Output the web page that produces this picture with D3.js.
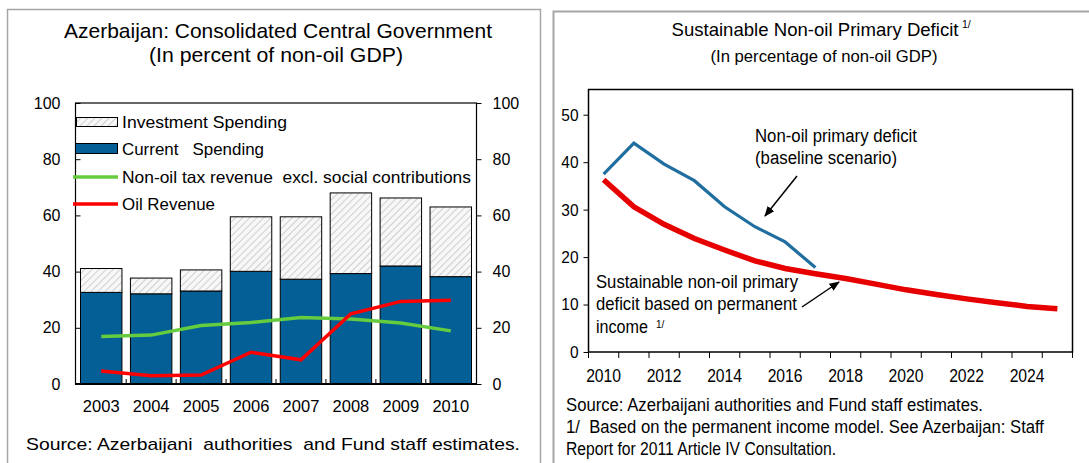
<!DOCTYPE html>
<html>
<head>
<meta charset="utf-8">
<script src="https://cdn.jsdelivr.net/npm/d3@7/dist/d3.min.js"></script>
<style>
  body { margin: 0; background: #fff; }
  text { font-family: "Liberation Sans", Arial, sans-serif; fill: #000; white-space: pre; }
</style>
</head>
<body>
<div id="chart"></div>
<script>
// left panel: consolidated central government, % of non-oil GDP
var years = [2003, 2004, 2005, 2006, 2007, 2008, 2009, 2010];
var currentSpending = [32.6, 32.1, 33.1, 40.1, 37.3, 39.3, 42.0, 38.2];
var investmentSpending = [8.5, 5.6, 7.5, 19.4, 22.2, 28.7, 24.2, 24.8];
var nonOilTax = [16.9, 17.4, 20.8, 21.9, 23.7, 23.1, 21.7, 18.9];
var oilRevenue = [4.6, 2.9, 3.2, 11.3, 8.6, 25.0, 29.4, 29.8];
var leftTicks = [0, 20, 40, 60, 80, 100];

// right panel: sustainable non-oil primary deficit
var projYears = [2010, 2011, 2012, 2013, 2014, 2015, 2016, 2017, 2018, 2019, 2020, 2021, 2022, 2023, 2024, 2025];
var baselineDeficit = [37.5, 44.0, 39.6, 36.1, 30.6, 26.4, 23.2, 17.8];
var sustainableDeficit = [36.3, 30.6, 26.9, 23.9, 21.5, 19.2, 17.6, 16.5, 15.5, 14.3, 13.1, 12.1, 11.2, 10.4, 9.6, 9.1];
var rightTicks = [0, 10, 20, 30, 40, 50];
var rightYearLabels = [2010, 2012, 2014, 2016, 2018, 2020, 2022, 2024];

var svg = d3.select('#chart').append('svg')
    .attr('width', 1089)
    .attr('height', 463);

var defs = svg.append('defs');
var hatch = defs.append('pattern')
    .attr('id', 'hatch')
    .attr('patternUnits', 'userSpaceOnUse')
    .attr('width', 5)
    .attr('height', 5)
    .attr('patternTransform', 'rotate(45)');
hatch.append('rect').attr('width', 5).attr('height', 5).attr('fill', '#f7f7f7');
hatch.append('line').attr('x1', 0).attr('y1', 0).attr('x2', 0).attr('y2', 5)
    .attr('stroke', '#b4b4b4').attr('stroke-width', 1.2);

defs.append('marker')
    .attr('id', 'arrow')
    .attr('viewBox', '0 0 10 10')
    .attr('refX', 9).attr('refY', 5)
    .attr('markerWidth', 7).attr('markerHeight', 7)
    .attr('orient', 'auto')
  .append('path')
    .attr('d', 'M0,1L10,5L0,9Z')
    .attr('fill', '#000');

var label = function(g, x, y, str, size, anchor, len) {
    var t = g.append('text')
        .attr('x', x).attr('y', y)
        .attr('font-size', size + 'px')
        .attr('text-anchor', anchor || 'start')
        .text(str);
    if (len) t.attr('textLength', len).attr('lengthAdjust', 'spacingAndGlyphs');
    return t;
};

// panel borders
svg.append('rect')
    .attr('x', 7.5).attr('y', 9.5).attr('width', 533).attr('height', 480)
    .attr('fill', 'none').attr('stroke', '#a6a6a6').attr('stroke-width', 1.5);
svg.append('path')
    .attr('d', 'M553.5,470V11.5H1095')
    .attr('fill', 'none').attr('stroke', '#a6a6a6').attr('stroke-width', 2);

/* ---------- left panel ---------- */
var left = svg.append('g');
var xL = d3.scaleBand(years, [75.5, 476.5]).paddingInner(0.17).paddingOuter(0.1),
    yL = d3.scaleLinear([0, 100], [384, 103]);

label(left, 278, 38, 'Azerbaijan: Consolidated Central Government', 21, 'middle', 428);
label(left, 276, 62, '(In percent of non-oil GDP)', 21, 'middle', 254);

left.selectAll('.cur')
    .data(years)
    .enter()
    .append('rect')
    .attr('x', function(d) { return xL(d); })
    .attr('width', xL.bandwidth())
    .attr('y', function(d, i) { return yL(currentSpending[i]); })
    .attr('height', function(d, i) { return yL(0) - yL(currentSpending[i]); })
    .attr('fill', '#035f95')
    .attr('stroke', '#000')
    .attr('stroke-width', 1);

left.selectAll('.inv')
    .data(years)
    .enter()
    .append('rect')
    .attr('x', function(d) { return xL(d); })
    .attr('width', xL.bandwidth())
    .attr('y', function(d, i) { return yL(currentSpending[i] + investmentSpending[i]); })
    .attr('height', function(d, i) { return yL(currentSpending[i]) - yL(currentSpending[i] + investmentSpending[i]); })
    .attr('fill', 'url(#hatch)')
    .attr('stroke', '#000')
    .attr('stroke-width', 1);

var lineL = function(vals) {
    return d3.line()
        .x(function(d, i) { return xL(years[i]) + xL.bandwidth() / 2; })
        .y(function(d) { return yL(d); })(vals);
};
left.append('path').attr('d', lineL(nonOilTax))
    .attr('fill', 'none').attr('stroke', '#66cc3f').attr('stroke-width', 3.5);
left.append('path').attr('d', lineL(oilRevenue))
    .attr('fill', 'none').attr('stroke', '#ff0000').attr('stroke-width', 3.5);

// frame and axes
left.append('rect')
    .attr('x', 75.5).attr('y', 103).attr('width', 401).attr('height', 281)
    .attr('fill', 'none').attr('stroke', '#000').attr('stroke-width', 1.2);
left.append('line')
    .attr('x1', 75).attr('x2', 477).attr('y1', 384).attr('y2', 384)
    .attr('stroke', '#000').attr('stroke-width', 2);

var axL = left.append('g')
    .attr('transform', 'translate(75.5,0)')
    .call(d3.axisLeft(yL).tickValues(leftTicks).tickSize(-5).tickPadding(15));
var axR = left.append('g')
    .attr('transform', 'translate(476.5,0)')
    .call(d3.axisRight(yL).tickValues(leftTicks).tickSize(5).tickPadding(11));
var axB = left.append('g')
    .attr('transform', 'translate(0,384)')
    .call(d3.axisBottom(xL).tickSize(0).tickPadding(16));
[axL, axR, axB].forEach(function(a) {
    a.select('.domain').remove();
    a.selectAll('text').attr('font-size', '16px').attr('font-family', null);
    a.selectAll('line').attr('stroke', '#000');
});
axB.selectAll('text').attr('font-size', '16.5px');

// category separators on the bottom axis
left.selectAll('.sep')
    .data(years.slice(1))
    .enter()
    .append('line')
    .attr('x1', function(d) { return xL(d) - xL.step() * xL.paddingInner() / 2; })
    .attr('x2', function(d) { return xL(d) - xL.step() * xL.paddingInner() / 2; })
    .attr('y1', 384).attr('y2', 379)
    .attr('stroke', '#000');

// legend
var lg = left.append('g');
lg.append('rect').attr('x', 76.5).attr('y', 117.5).attr('width', 41).attr('height', 9)
    .attr('fill', 'url(#hatch)').attr('stroke', '#000');
lg.append('rect').attr('x', 75.5).attr('y', 143.5).attr('width', 42).attr('height', 10)
    .attr('fill', '#035f95').attr('stroke', '#000');
lg.append('line').attr('x1', 73).attr('x2', 118).attr('y1', 177).attr('y2', 177)
    .attr('stroke', '#66cc3f').attr('stroke-width', 3.5);
lg.append('line').attr('x1', 73).attr('x2', 118).attr('y1', 204).attr('y2', 204)
    .attr('stroke', '#ff0000').attr('stroke-width', 3.5);
label(lg, 122, 128, 'Investment Spending', 16.5, 'start', 165);
label(lg, 122, 155, 'Current   Spending', 16.5, 'start', 142);
label(lg, 122, 183, 'Non-oil tax revenue  excl. social contributions', 16.5, 'start', 349);
label(lg, 122, 210, 'Oil Revenue', 16.5, 'start', 93);

label(left, 273, 450, 'Source: Azerbaijani  authorities  and Fund staff estimates.', 17, 'middle', 494);

/* ---------- right panel ---------- */
var right = svg.append('g');
var xR = d3.scaleBand(projYears, [588.5, 1072.5]),
    yR = d3.scaleLinear([0, 55], [352, 91]);

label(right, 815, 36, 'Sustainable Non-oil Primary Deficit', 18.5, 'middle', 287);
label(right, 962, 28, '1/', 10.5, 'start');
label(right, 824, 62, '(In percentage of non-oil GDP)', 16.5, 'middle', 227);

var lineR = d3.line()
    .x(function(d, i) { return xR(projYears[i]) + xR.bandwidth() / 2; })
    .y(function(d) { return yR(d); });
right.append('path').attr('d', lineR(sustainableDeficit))
    .attr('fill', 'none').attr('stroke', '#e60000').attr('stroke-width', 5.5);
right.append('path').attr('d', lineR(baselineDeficit))
    .attr('fill', 'none').attr('stroke', '#1f6e9f').attr('stroke-width', 3.2);

right.append('rect')
    .attr('x', 588.5).attr('y', 89.5).attr('width', 484).attr('height', 262.5)
    .attr('fill', 'none').attr('stroke', '#000').attr('stroke-width', 1.5);

var axRL = right.append('g')
    .attr('transform', 'translate(588.5,0)')
    .call(d3.axisLeft(yR).tickValues(rightTicks).tickSize(5).tickPadding(5));
var axRB = right.append('g')
    .attr('transform', 'translate(0,352)')
    .call(d3.axisBottom(xR).tickValues(rightYearLabels).tickSize(0).tickPadding(17));
[axRL, axRB].forEach(function(a) {
    a.select('.domain').remove();
    a.selectAll('text').attr('font-size', '17px').attr('font-family', null);
    a.selectAll('line').attr('stroke', '#000');
});
axRB.selectAll('text').attr('font-size', '18px')
    .attr('textLength', 35).attr('lengthAdjust', 'spacingAndGlyphs');
axRL.selectAll('text').each(function() {
    var t = d3.select(this);
    t.attr('textLength', t.text().length * 8.6).attr('lengthAdjust', 'spacingAndGlyphs');
});

right.selectAll('.xt')
    .data(projYears.concat([null]))
    .enter()
    .append('line')
    .attr('x1', function(d) { return d === null ? xR.range()[1] : xR(d); })
    .attr('x2', function(d) { return d === null ? xR.range()[1] : xR(d); })
    .attr('y1', 352).attr('y2', 358)
    .attr('stroke', '#000');

// annotations
label(right, 755, 142, 'Non-oil primary deficit', 18, 'start', 162);
label(right, 755, 164, '(baseline scenario)', 18, 'start', 142);
right.append('line')
    .attr('x1', 797).attr('y1', 176).attr('x2', 765).attr('y2', 216)
    .attr('stroke', '#000').attr('stroke-width', 1.5)
    .attr('marker-end', 'url(#arrow)');

label(right, 596, 288, 'Sustainable non-oil primary', 18.5, 'start', 202);
label(right, 596, 310, 'deficit based on permanent', 18.5, 'start', 201);
label(right, 596, 333, 'income', 17.5, 'start', 52);
label(right, 656, 328, '1/', 10, 'start');
right.append('line')
    .attr('x1', 802).attr('y1', 307).attr('x2', 839).attr('y2', 282)
    .attr('stroke', '#000').attr('stroke-width', 1.5)
    .attr('marker-end', 'url(#arrow)');

label(right, 566, 411, 'Source: Azerbaijani authorities and Fund staff estimates.', 17.5, 'start', 417);
label(right, 566, 433, '1/  Based on the permanent income model. See Azerbaijan: Staff', 17.5, 'start', 478);
label(right, 566, 455, 'Report for 2011 Article IV Consultation.', 17.5, 'start', 270);
</script>
</body>
</html>
